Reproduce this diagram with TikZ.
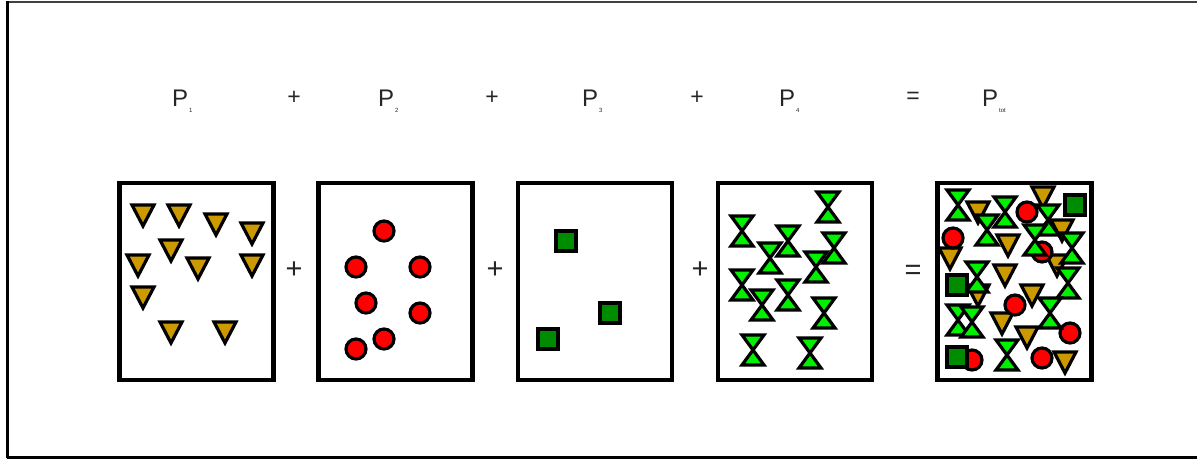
\documentclass[tikz,border=0pt]{standalone}
\usepackage{fontspec}
\setmainfont{Liberation Sans}

\definecolor{gold}{RGB}{204,153,0}
\definecolor{brightred}{RGB}{255,0,0}
\definecolor{darkgrn}{RGB}{0,140,0}
\definecolor{limegrn}{RGB}{0,240,0}

% label with a tiny subscript
\newcommand{\plbl}[2]{P\raisebox{-6pt}{\fontsize{6}{6}\selectfont\,#2}}

\begin{document}
\begin{tikzpicture}[x=1pt, y=-1pt,
    box/.style={draw, line width=4.8pt, minimum width=154pt, minimum height=197pt, inner sep=0pt},
    tri/.style={draw, line width=3.2pt, fill=gold},
    dot/.style={draw, line width=3.2pt, fill=brightred},
    sq/.style={draw, line width=3.2pt, fill=darkgrn},
    glass/.style={draw, line width=3.2pt, fill=limegrn},
    toplbl/.style={font=\fontsize{24}{24}\selectfont, text=black!85, anchor=base west, inner sep=0pt},
    topop/.style={font=\fontsize{23}{23}\selectfont, text=black!85, inner sep=0pt},
    op/.style={font=\fontsize{29}{29}\selectfont, text=black!85, inner sep=0pt}
  ]
  \useasboundingbox (0,0) rectangle (1197,459);

  % --- frame (right side cut off) ---
  \draw[line width=1.5pt, black!75] (7,2) -- (1197,2);
  \draw[line width=3pt] (7,1) -- (7,458);
  \draw[line width=2.5pt] (7,457.5) -- (1197,457.5);

  % --- top row ---
  \node[toplbl] (p1) at (172,106) {\plbl{P}{1}};
  \node[topop] (tplus1) at (294,97.5) {+};
  \node[toplbl] (p2) at (378,106) {\plbl{P}{2}};
  \node[topop] (tplus2) at (492,97.5) {+};
  \node[toplbl] (p3) at (582,106) {\plbl{P}{3}};
  \node[topop] (tplus3) at (697,97.5) {+};
  \node[toplbl] (p4) at (779,106) {\plbl{P}{4}};
  \node[topop] (teq) at (913,97.5) {=};
  \node[toplbl] (ptot) at (982,106) {\plbl{P}{tot}};

  % --- boxes ---
  \node[box] (box1) at (196.5,281.5) {};
  \node[box] (box2) at (395.5,281.5) {};
  \node[box] (box3) at (595,281.5) {};
  \node[box] (box4) at (795,281.5) {};
  \node[box] (box5) at (1014.5,281.5) {};

  \node[op] (plus1) at (294,270) {+};
  \node[op] (plus2) at (495,270) {+};
  \node[op] (plus3) at (700,270) {+};
  \node[op] (eq) at (913,272) {=};

  % ---- box 1: triangles ----
  \foreach \x/\y in {143/215, 179/215, 216/224, 252/233, 171/250, 138/265,
                     198/268, 252/265, 143/297, 171/332, 225/332} {
    \draw[tri] (\x-11,\y-10) -- (\x+11,\y-10) -- (\x,\y+11) -- cycle;
  }

  % ---- box 2: circles ----
  \foreach \x/\y in {384/231, 356/267, 420/267, 366/303, 420/313, 384/339, 356/349} {
    \draw[dot] (\x,\y) circle (10);
  }

  % ---- box 3: squares ----
  \foreach \x/\y in {566/241, 610/313, 548/339} {
    \draw[sq] (\x-10,\y-10) rectangle (\x+10,\y+10);
  }

  % ---- box 4: hourglasses ----
  \foreach \x/\y in {828/207, 742/231, 788/241, 834/248, 770/258, 816/267,
                     742/285, 788/295, 762/305, 824/313, 753/350, 810/353} {
    \draw[glass] (\x-11,\y-15) -- (\x+11,\y-15) -- (\x-11,\y+15) -- (\x+11,\y+15) -- cycle;
  }

  % ---- box 5: everything mixed ----
  \foreach \x/\y in {1043/197, 978/212, 1062/230, 1008/245, 950/258, 1057/265,
                     1005/275, 1032/295, 978/295, 1002/323, 1027/337, 1065/362} {
    \draw[tri] (\x-11,\y-10) -- (\x+11,\y-10) -- (\x,\y+11) -- cycle;
  }
  \foreach \x/\y in {1027/212, 953/238, 1042/252, 1015/305, 1070/333, 1042/358, 972/360} {
    \draw[dot] (\x,\y) circle (10);
  }
  \foreach \x/\y in {958/205, 1005/212, 987/230, 1048/220, 1035/240, 1072/248,
                     977/277, 1068/283, 958/320, 972/322, 1050/313, 1007/355} {
    \draw[glass] (\x-11,\y-15) -- (\x+11,\y-15) -- (\x-11,\y+15) -- (\x+11,\y+15) -- cycle;
  }
  \foreach \x/\y in {1075/205, 957/285, 957/357} {
    \draw[sq] (\x-10,\y-10) rectangle (\x+10,\y+10);
  }

\end{tikzpicture}
\end{document}
